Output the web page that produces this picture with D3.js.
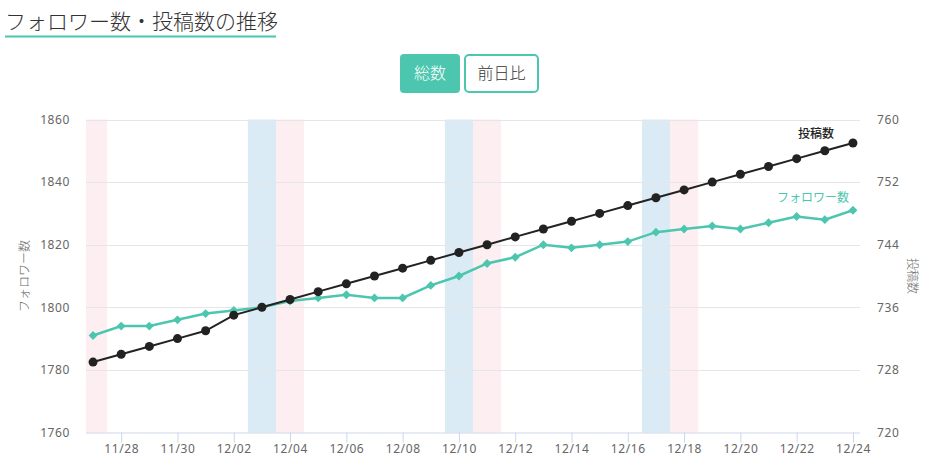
<!DOCTYPE html>
<html>
<head>
<meta charset="utf-8">
<script src="https://cdn.jsdelivr.net/npm/d3@7"></script>
<style>
	body { margin: 0; background: #fff; }
	svg { display: block; font-family: "Noto Sans CJK JP", "Noto Sans", sans-serif; }
</style>
</head>
<body>
<div id="chart"></div>
<script>

var dates = ['11/27', '11/28', '11/29', '11/30', '12/01', '12/02', '12/03', '12/04', '12/05', '12/06',
	'12/07', '12/08', '12/09', '12/10', '12/11', '12/12', '12/13', '12/14', '12/15', '12/16',
	'12/17', '12/18', '12/19', '12/20', '12/21', '12/22', '12/23', '12/24'];
var followers = [1791, 1794, 1794, 1796, 1798, 1799, 1800, 1802, 1803, 1804,
	1803, 1803, 1807, 1810, 1814, 1816, 1820, 1819, 1820, 1821,
	1824, 1825, 1826, 1825, 1827, 1829, 1828, 1831];
var posts = [729, 730, 731, 732, 733, 735, 736, 737, 738, 739,
	740, 741, 742, 743, 744, 745, 746, 747, 748, 749,
	750, 751, 752, 753, 754, 755, 756, 757];
var saturdays = ['12/03', '12/10', '12/17'];
var sundays = ['11/27', '12/04', '12/11', '12/18'];
var xTicks = ['11/28', '11/30', '12/02', '12/04', '12/06', '12/08', '12/10', '12/12', '12/14', '12/16', '12/18', '12/20', '12/22', '12/24'];
var leftTicks = [1760, 1780, 1800, 1820, 1840, 1860];
var rightTicks = [720, 728, 736, 744, 752, 760];

var teal = '#4cc6ae';

function drawChart() {
	var width = 929, height = 468;
	var left = 86, right = 860, top = 119.5, bottom = 432.5;

	var svg = d3.select('#chart').append('svg')
		.attr('width', width)
		.attr('height', height);

	// title
	svg.append('text')
		.attr('x', 5).attr('y', 29)
		.style('font-size', '21px').style('font-weight', 300).style('fill', '#333')
		.text('フォロワー数・投稿数の推移');
	svg.append('rect')
		.attr('x', 5).attr('y', 35.5).attr('width', 271).attr('height', 2)
		.style('fill', teal);

	// buttons
	svg.append('rect')
		.attr('x', 400).attr('y', 54).attr('width', 60).attr('height', 39).attr('rx', 4)
		.style('fill', teal);
	svg.append('text')
		.attr('x', 430).attr('y', 79).attr('text-anchor', 'middle')
		.style('font-size', '16px').style('font-weight', 300).style('fill', '#fff')
		.text('総数');
	svg.append('rect')
		.attr('x', 465).attr('y', 55).attr('width', 73).attr('height', 37).attr('rx', 4)
		.style('fill', '#fff').style('stroke', teal).style('stroke-width', 2);
	svg.append('text')
		.attr('x', 501.5).attr('y', 79).attr('text-anchor', 'middle')
		.style('font-size', '16px').style('font-weight', 300).style('fill', '#333')
		.text('前日比');

	var x = d3.scalePoint().domain(dates).range([left, right]).padding(0.25);
	var yL = d3.scaleLinear().domain([1760, 1860]).range([bottom, top]);
	var yR = d3.scaleLinear().domain([720, 760]).range([bottom, top]);
	var step = x.step();

	// weekend bands
	var bands = svg.append('g');
	function band(d, color) {
		var x0 = Math.max(left, x(d) - step / 2);
		var x1 = Math.min(right, x(d) + step / 2);
		bands.append('rect')
			.attr('x', x0).attr('y', top).attr('width', x1 - x0).attr('height', bottom - top)
			.style('fill', color);
	}
	saturdays.forEach(function(d) { band(d, '#daebf6'); });
	sundays.forEach(function(d) { band(d, '#fdeef2'); });

	// grid
	svg.append('g').selectAll('line').data(leftTicks.slice(1)).enter().append('line')
		.attr('x1', left).attr('x2', right)
		.attr('y1', function(d) { return Math.round(yL(d)) + 0.5; })
		.attr('y2', function(d) { return Math.round(yL(d)) + 0.5; })
		.style('stroke', '#e6e6e6');

	// axes
	var axisL = svg.append('g').attr('transform', 'translate(' + left + ',0)')
		.call(d3.axisLeft(yL).tickValues(leftTicks).tickFormat(d3.format('d')).tickSize(0).tickPadding(16));
	var axisR = svg.append('g').attr('transform', 'translate(' + right + ',0)')
		.call(d3.axisRight(yR).tickValues(rightTicks).tickFormat(d3.format('d')).tickSize(0).tickPadding(17));
	var axisB = svg.append('g').attr('transform', 'translate(0,' + bottom + ')')
		.call(d3.axisBottom(x).tickValues(xTicks).tickSize(10).tickPadding(2).tickSizeOuter(0));
	axisL.select('.domain').remove();
	axisR.select('.domain').remove();
	axisB.select('.domain').attr('d', 'M' + left + ',0.5H' + right).style('stroke', '#ccd6eb');
	axisB.selectAll('.tick line').style('stroke', '#ccd6eb');
	[axisL, axisR, axisB].forEach(function(a) {
		a.selectAll('text')
			.style('font-family', '"Noto Sans", sans-serif')
			.style('font-size', '12px')
			.style('letter-spacing', '0.6px')
			.style('fill', '#666');
	});

	// axis titles
	svg.append('text')
		.attr('transform', 'translate(29,' + ((top + bottom) / 2) + ') rotate(-90)')
		.attr('text-anchor', 'middle')
		.style('font-size', '12px').style('font-weight', 300).style('fill', '#666')
		.text('フォロワー数');
	svg.append('text')
		.attr('transform', 'translate(908,' + ((top + bottom) / 2) + ') rotate(90)')
		.attr('text-anchor', 'middle')
		.style('font-size', '12px').style('font-weight', 300).style('fill', '#666')
		.text('投稿数');

	// followers line
	var lineF = d3.line().x(function(d, i) { return x(dates[i]); }).y(function(d) { return yL(d); });
	svg.append('path').datum(followers)
		.attr('d', lineF)
		.style('fill', 'none').style('stroke', teal).style('stroke-width', 2.5);
	svg.append('g').selectAll('path').data(followers).enter().append('path')
		.attr('d', d3.symbol().type(d3.symbolDiamond2).size(50))
		.attr('transform', function(d, i) { return 'translate(' + x(dates[i]) + ',' + yL(d) + ')'; })
		.style('fill', teal);

	// posts line
	var lineP = d3.line().x(function(d, i) { return x(dates[i]); }).y(function(d) { return yR(d); });
	svg.append('path').datum(posts)
		.attr('d', lineP)
		.style('fill', 'none').style('stroke', '#222').style('stroke-width', 2);
	svg.append('g').selectAll('circle').data(posts).enter().append('circle')
		.attr('cx', function(d, i) { return x(dates[i]); })
		.attr('cy', function(d) { return yR(d); })
		.attr('r', 4.5)
		.style('fill', '#222');

	// series labels
	var last = dates.length - 1;
	svg.append('text')
		.attr('x', x(dates[last]) - 19).attr('y', yR(posts[last]) - 5)
		.attr('text-anchor', 'end')
		.style('font-size', '12px').style('font-weight', 500).style('fill', '#222')
		.text('投稿数');
	svg.append('text')
		.attr('x', x(dates[last]) - 4).attr('y', yL(followers[last]) - 8)
		.attr('text-anchor', 'end')
		.style('font-size', '12px').style('font-weight', 400).style('fill', teal)
		.text('フォロワー数');
}

drawChart();
</script>
</body>
</html>
